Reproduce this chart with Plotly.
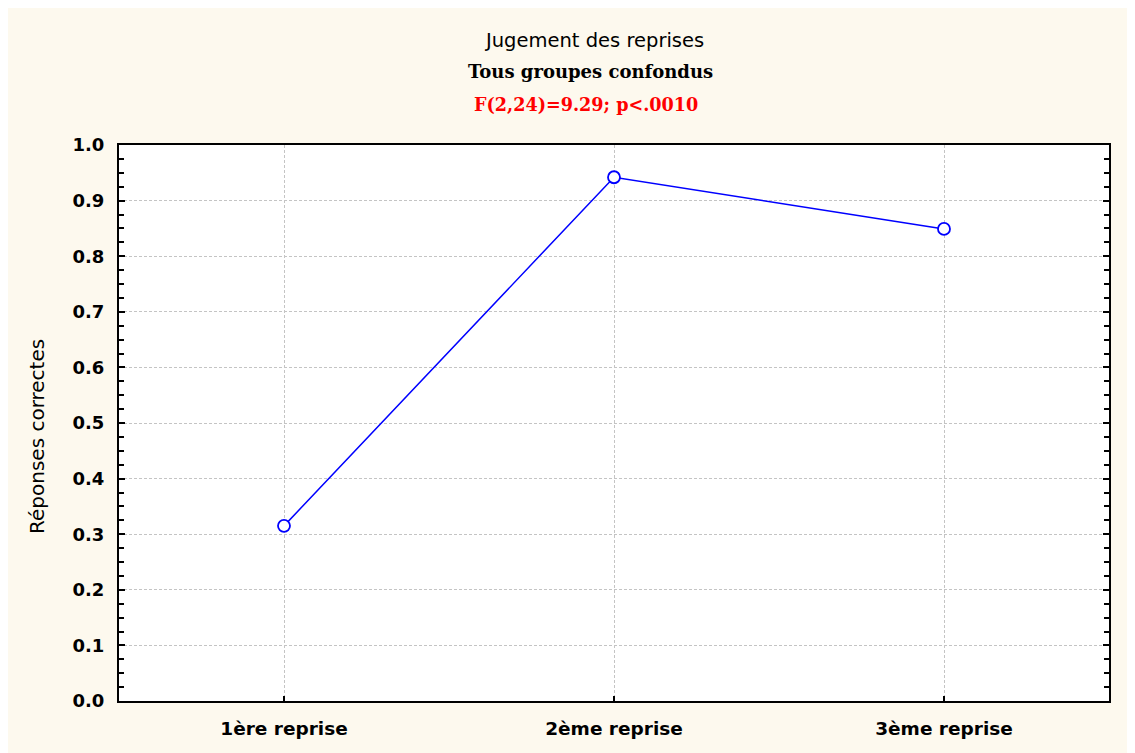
import plotly.graph_objects as go

categories = ["1ère reprise", "2ème reprise", "3ème reprise"]
values = [0.315, 0.942, 0.849]
y_ticks = [0.0, 0.1, 0.2, 0.3, 0.4, 0.5, 0.6, 0.7, 0.8, 0.9, 1.0]
y_tick_labels = ["0.0", "0.1", "0.2", "0.3", "0.4", "0.5", "0.6", "0.7", "0.8", "0.9", "1.0"]

title_main = "Jugement des reprises"
title_sub = "Tous groupes confondus"
title_stat = "F(2,24)=9.29; p<.0010"
y_title = "Réponses correctes"

cream = "#fdf9ee"
grid = "#c4c4c4"

W, H = 1135, 753
ML, MT, MR, MB = 111, 137, 34, 60
plot_h = H - MT - MB
plot_w = W - ML - MR


def py(y_px):
    # figure pixel (from top) -> paper coordinate
    return (H - MB - y_px) / plot_h


def px(x_px):
    return (x_px - ML) / plot_w


fig = go.Figure()
fig.add_trace(go.Scatter(
    x=list(range(len(categories))), y=values,
    mode="lines+markers",
    line=dict(color="#0000ff", width=1.5),
    marker=dict(symbol="circle", size=12, color="white",
                line=dict(color="#0000ff", width=1.8)),
    showlegend=False,
))

fig.update_layout(
    width=W, height=H,
    paper_bgcolor=cream, plot_bgcolor="white",
    margin=dict(l=ML, r=MR, t=MT, b=MB),
    font=dict(family="DejaVu Sans", color="black"),
    xaxis=dict(
        range=[-0.5, 2.5], tickmode="array",
        tickvals=list(range(len(categories))), ticktext=categories,
        showgrid=True, gridcolor=grid, griddash="3px,2px", gridwidth=1,
        showline=True, linecolor="black", linewidth=2, mirror=True,
        ticks="inside", ticklen=5, tickcolor="black", tickwidth=1.5,
        tickfont=dict(size=18.5, family="DejaVu Sans", weight="bold"),
        ticklabelstandoff=10,
        zeroline=False,
    ),
    yaxis=dict(
        range=[0, 1], tickmode="array", tickvals=y_ticks, ticktext=y_tick_labels,
        showgrid=True, gridcolor=grid, griddash="3px,2px", gridwidth=1,
        showline=True, linecolor="black", linewidth=2, mirror="ticks",
        ticks="inside", ticklen=6, tickcolor="black", tickwidth=1.5,
        tickfont=dict(size=18, family="DejaVu Sans", weight="bold"),
        ticklabelstandoff=9,
        minor=dict(dtick=0.025, ticks="inside", ticklen=5, tickcolor="black",
                   tickwidth=1.5, showgrid=False),
        zeroline=False,
    ),
    annotations=[
        dict(text=title_main, x=px(586), y=py(32), xref="paper", yref="paper",
             xanchor="center", yanchor="middle", showarrow=False,
             font=dict(size=19.5, family="DejaVu Sans")),
        dict(text="<b>" + title_sub + "</b>", x=px(582), y=py(64), xref="paper", yref="paper",
             xanchor="center", yanchor="middle", showarrow=False,
             font=dict(size=18, family="DejaVu Serif")),
        dict(text="<b>" + title_stat + "</b>", x=px(578), y=py(96), xref="paper", yref="paper",
             xanchor="center", yanchor="middle", showarrow=False,
             font=dict(size=17.6, family="DejaVu Serif", color="red")),
        dict(text=y_title, x=px(29), y=py(429), xref="paper", yref="paper",
             xanchor="center", yanchor="middle", textangle=-90, showarrow=False,
             font=dict(size=20, family="DejaVu Sans")),
    ],
)

fig.write_html("out.html")
